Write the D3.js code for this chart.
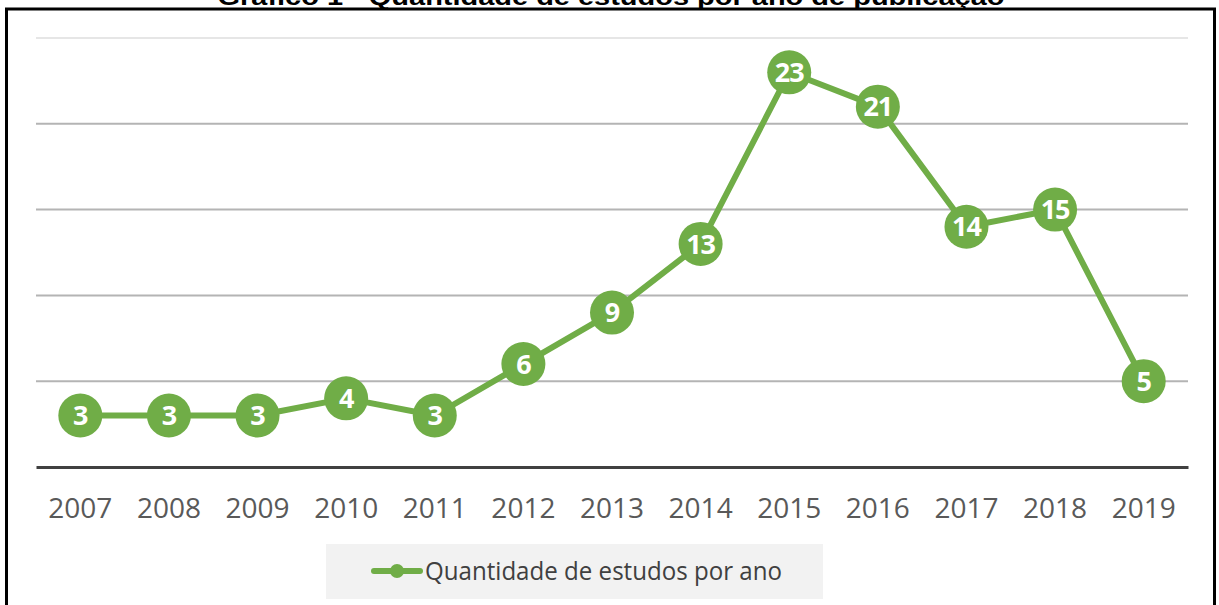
<!DOCTYPE html>
<html>
<head>
<meta charset="utf-8">
<script src="https://cdn.jsdelivr.net/npm/d3@7"></script>
<style>
  html, body { margin: 0; padding: 0; background: #fff; }
  svg { display: block; }
</style>
</head>
<body>
<div id="chart"></div>
<script>
// chart data
var years = ['2007', '2008', '2009', '2010', '2011', '2012', '2013', '2014', '2015', '2016', '2017', '2018', '2019'];
var counts = [3, 3, 3, 4, 3, 6, 9, 13, 23, 21, 14, 15, 5];
var yTicks = [0, 5, 10, 15, 20, 25];
var seriesName = 'Quantidade de estudos por ano';
var chartTitle = 'Gráfico 1 - Quantidade de estudos por ano de publicação';

var width = 1219;
var height = 605;
var green = '#70ad47';

var svg = d3.select('#chart').append('svg')
    .attr('width', width)
    .attr('height', height);

// outer frame
svg.append('rect')
    .attr('x', 6.5)
    .attr('y', 9)
    .attr('width', 1208)
    .attr('height', 610)
    .attr('fill', '#fff')
    .attr('stroke', '#000')
    .attr('stroke-width', 3);

// title (cut by the top edge, as in the source)
svg.append('text')
    .attr('x', 611)
    .attr('y', 5)
    .attr('text-anchor', 'middle')
    .attr('font-family', 'Liberation Sans, Arial, sans-serif')
    .attr('font-weight', 'bold')
    .attr('font-size', 24)
    .attr('textLength', 787)
    .attr('lengthAdjust', 'spacingAndGlyphs')
    .attr('fill', '#000')
    .text(chartTitle);

var x = d3.scaleBand()
    .domain(years)
    .range([36, 1188]);

var y = d3.scaleLinear()
    .domain([0, 25])
    .range([467, 38]);

// gridlines
svg.append('g')
    .selectAll('line')
    .data(yTicks.filter(function (d) { return d > 0; }))
    .join('line')
    .attr('x1', 36)
    .attr('x2', 1188)
    .attr('y1', function (d) { return y(d); })
    .attr('y2', function (d) { return y(d); })
    .attr('stroke', function (d) { return d === 25 ? '#e6e6e6' : '#b4b4b4'; })
    .attr('stroke-width', 2);

// x axis
var xAxis = d3.axisBottom(x).tickSize(0).tickPadding(31);
var gx = svg.append('g')
    .attr('transform', 'translate(0,' + y(0) + ')')
    .call(xAxis);
gx.select('.domain')
    .attr('stroke', '#404040')
    .attr('stroke-width', 3);
gx.selectAll('text')
    .attr('font-family', 'Open Sans, sans-serif')
    .attr('font-size', 28)
    .attr('fill', '#595959');

var cx = function (d, i) { return x(years[i]) + x.bandwidth() / 2; };

var line = d3.line()
    .x(cx)
    .y(function (d) { return y(d); });

svg.append('path')
    .datum(counts)
    .attr('d', line)
    .attr('fill', 'none')
    .attr('stroke', green)
    .attr('stroke-width', 6)
    .attr('stroke-linejoin', 'round');

var pts = svg.append('g')
    .selectAll('g')
    .data(counts)
    .join('g')
    .attr('transform', function (d, i) { return 'translate(' + cx(d, i) + ',' + y(d) + ')'; });

pts.append('circle')
    .attr('r', 22)
    .attr('fill', green);

pts.append('text')
    .attr('text-anchor', 'middle')
    .attr('dy', '0.36em')
    .attr('font-family', 'Open Sans, sans-serif')
    .attr('font-weight', 'bold')
    .attr('font-size', 27)
    .attr('letter-spacing', -1)
    .attr('fill', '#fff')
    .text(function (d) { return d; });

// legend
var lg = svg.append('g');
lg.append('rect')
    .attr('x', 326)
    .attr('y', 544)
    .attr('width', 497)
    .attr('height', 55)
    .attr('fill', '#f2f2f2');
lg.append('line')
    .attr('x1', 374)
    .attr('x2', 420)
    .attr('y1', 571)
    .attr('y2', 571)
    .attr('stroke', green)
    .attr('stroke-width', 6)
    .attr('stroke-linecap', 'round');
lg.append('circle')
    .attr('cx', 397)
    .attr('cy', 571)
    .attr('r', 7)
    .attr('fill', green);
lg.append('text')
    .attr('x', 425)
    .attr('y', 580)
    .attr('font-family', 'Open Sans, sans-serif')
    .attr('font-size', 26)
    .attr('textLength', 357)
    .attr('lengthAdjust', 'spacingAndGlyphs')
    .attr('fill', '#404040')
    .text(seriesName);
</script>
</body>
</html>
